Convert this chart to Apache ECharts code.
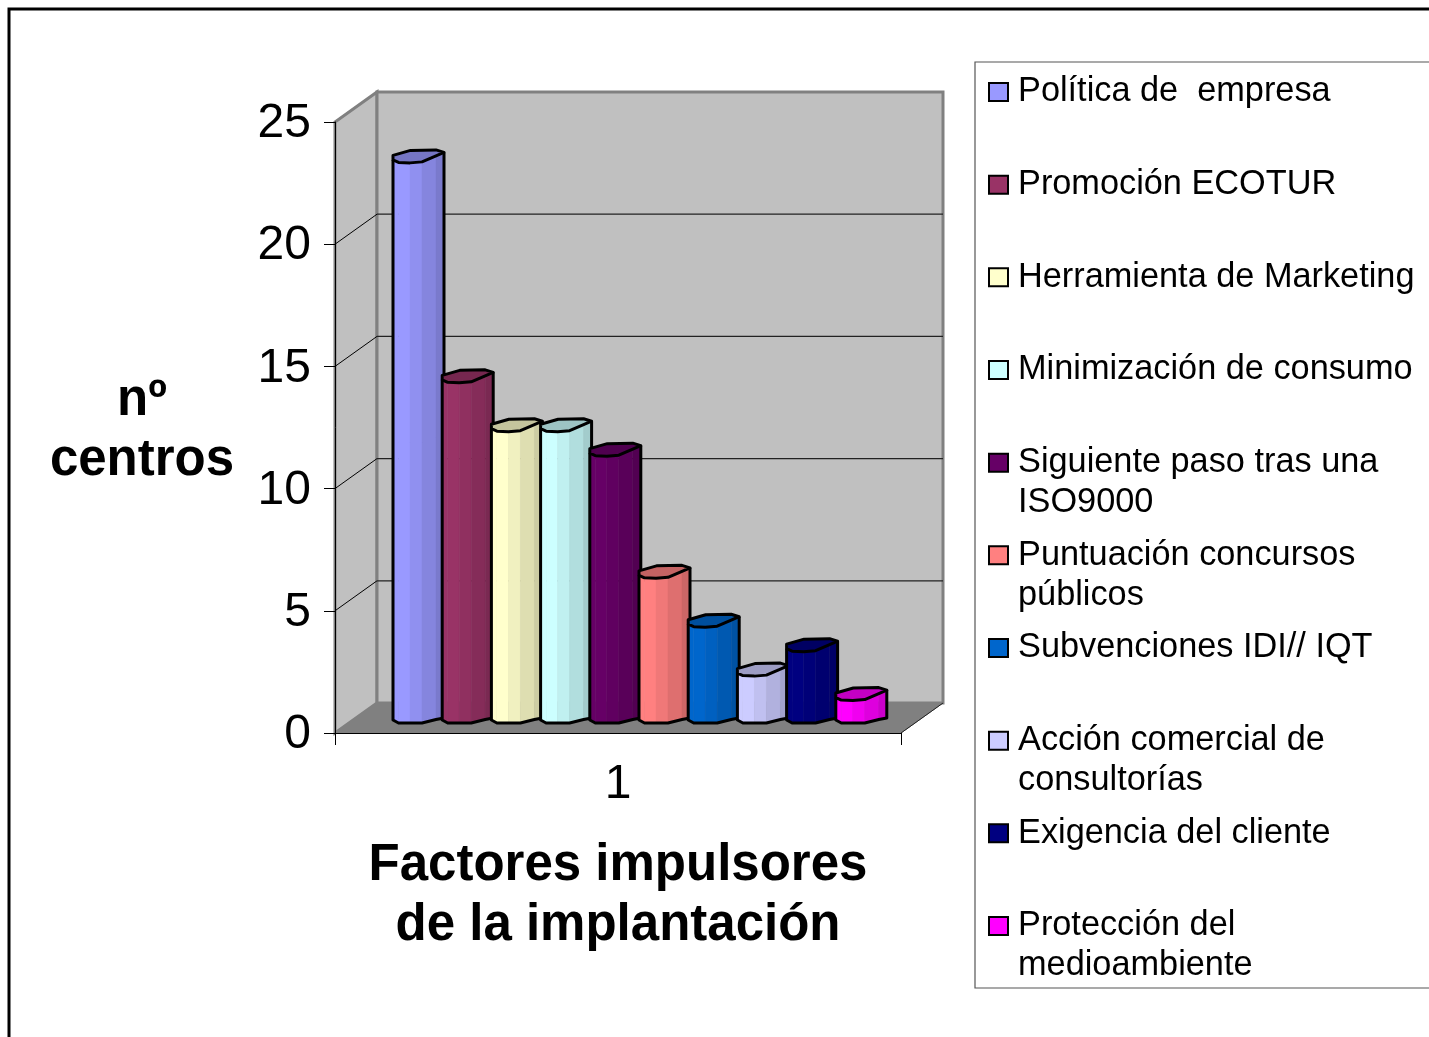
<!DOCTYPE html>
<html>
<head>
<meta charset="utf-8">
<title>Factores impulsores de la implantación</title>
<script src="https://cdn.jsdelivr.net/npm/echarts@6/dist/echarts.min.js"></script>
<style>
html, body { margin: 0; padding: 0; background: #fff; }
#chart { width: 1429px; height: 1037px; }
</style>
</head>
<body>
<div id="chart"></div>
<script>
const categories = ['1']
const factorNames = [
  'Política de  empresa',
  'Promoción ECOTUR',
  'Herramienta de Marketing',
  'Minimización de consumo',
  'Siguiente paso tras una\nISO9000',
  'Puntuación concursos\npúblicos',
  'Subvenciones IDI// IQT',
  'Acción comercial de\nconsultorías',
  'Exigencia del cliente',
  'Protección del\nmedioambiente'
]
const factorValues = [23, 14, 12, 12, 11, 6, 4, 2, 3, 1]
const factorColors = ['#9999FF', '#993366', '#FFFFCC', '#CCFFFF', '#660066', '#FF8080', '#0066CC', '#CCCCFF', '#000080', '#FF00FF']
const yTicks = [0, 5, 10, 15, 20, 25]

const FONT = '"Liberation Sans", Arial, sans-serif'
// profundidad de la caja 3D
const DEPTH_X = 42
const DEPTH_Y = 30
// posicion de las barras dentro de la caja
const BAR_SHIFT_X = 21
const BAR_SHIFT_TOP = 8
const BAR_SHIFT_BASE = 10
const BAR_PITCH = 49.2
// perfil del prisma: x, borde frontal arriba, pie, sombra de cada cara
const PRISM_X = [0, 5.5, 17, 29, 43, 51]
const PRISM_TOP = [-3, -0.5, 0, -1, -7, -10.5]
const PRISM_FOOT = [-3, 0, 0, 0, -3.5, -5]
const PRISM_SHADE = [1, 1, 0.94, 0.87, 0.8]
const CAP_SHADE = 0.77
const PRISM_BACK = [[43, -13], [17.5, -12.5], [0, -7.5]]

function shade (hex, k) {
  const n = parseInt(hex.slice(1), 16)
  const r = Math.round((n >> 16 & 255) * k)
  const g = Math.round((n >> 8 & 255) * k)
  const b = Math.round((n & 255) * k)
  return `rgb(${r},${g},${b})`
}

function renderWalls (params, api) {
  const cs = params.coordSys
  const x0 = cs.x
  const x1 = cs.x + cs.width
  const yBase = api.coord([0, 0])[1]
  const yTop = api.coord([0, 25])[1]
  const wallLine = { stroke: '#808080', lineWidth: 3 }
  const children = [
    { type: 'polygon', shape: { points: [[x0, yBase], [x0 + DEPTH_X, yBase - DEPTH_Y], [x0 + DEPTH_X, yTop - DEPTH_Y], [x0, yTop]] }, style: { fill: '#C0C0C0', ...wallLine } },
    { type: 'polygon', shape: { points: [[x0 + DEPTH_X, yBase - DEPTH_Y], [x1 + DEPTH_X, yBase - DEPTH_Y], [x1 + DEPTH_X, yTop - DEPTH_Y], [x0 + DEPTH_X, yTop - DEPTH_Y]] }, style: { fill: '#C0C0C0', ...wallLine } },
    { type: 'polygon', shape: { points: [[x0, yBase], [x0 + DEPTH_X, yBase - DEPTH_Y], [x1 + DEPTH_X, yBase - DEPTH_Y], [x1, yBase]] }, style: { fill: '#808080', stroke: '#808080', lineWidth: 1 } },
    { type: 'line', shape: { x1: x1, y1: yBase, x2: x1 + DEPTH_X, y2: yBase - DEPTH_Y }, style: { stroke: '#222', lineWidth: 1 } }
  ]
  // lineas de division en pared lateral y fondo
  yTicks.slice(1, -1).forEach(t => {
    const y = api.coord([0, t])[1]
    children.push({ type: 'line', shape: { x1: x0, y1: y, x2: x0 + DEPTH_X, y2: y - DEPTH_Y }, style: { stroke: '#000', lineWidth: 1 } })
    children.push({ type: 'line', shape: { x1: x0 + DEPTH_X, y1: y - DEPTH_Y, x2: x1 + DEPTH_X, y2: y - DEPTH_Y }, style: { stroke: '#222', lineWidth: 1.2 } })
  })
  return { type: 'group', children: children }
}

function makeBarRender (index) {
  return function (params, api) {
    const center = api.coord([0, 0])[0]
    const left = center + BAR_SHIFT_X + (index - 5) * BAR_PITCH
    const yTop = api.coord([0, api.value(1)])[1] - BAR_SHIFT_TOP
    const yBase = api.coord([0, 0])[1] - BAR_SHIFT_BASE
    const color = factorColors[index]
    const children = []
    const front = PRISM_X.map((x, i) => [left + x, yTop + PRISM_TOP[i]])
    const foot = PRISM_X.map((x, i) => [left + x, yBase + PRISM_FOOT[i]])
    for (let i = 0; i < PRISM_SHADE.length; i++) {
      const fill = shade(color, PRISM_SHADE[i])
      children.push({
        type: 'polygon',
        shape: { points: [front[i], front[i + 1], foot[i + 1], foot[i]] },
        style: { fill: fill, stroke: fill, lineWidth: 0.5 }
      })
    }
    const back = PRISM_BACK.map(p => [left + p[0], yTop + p[1]])
    children.push({
      type: 'polygon',
      shape: { points: front.concat(back) },
      style: { fill: shade(color, CAP_SHADE), stroke: '#000', lineWidth: 3, lineJoin: 'round' }
    })
    // contorno del cuerpo
    children.push({
      type: 'polyline',
      shape: { points: [front[0]].concat(foot, [front[front.length - 1]]) },
      style: { fill: null, stroke: '#000', lineWidth: 3, lineJoin: 'round' }
    })
    return { type: 'group', children: children }
  }
}

const chart = echarts.init(document.getElementById('chart'))

const series = [{
  type: 'custom',
  name: 'paredes',
  silent: true,
  z: 1,
  renderItem: renderWalls,
  data: [[0, 0]]
}]
factorNames.forEach((name, i) => {
  series.push({
    type: 'custom',
    name: name,
    z: 2 + i,
    itemStyle: { color: factorColors[i], borderColor: '#000', borderWidth: 2 },
    encode: { x: 0, y: 1 },
    renderItem: makeBarRender(i),
    data: [[0, factorValues[i]]]
  })
})

chart.setOption({
  animation: false,
  backgroundColor: '#fff',
  grid: { left: 335, top: 122, width: 566, height: 611, outerBoundsMode: 'none' },
  xAxis: {
    type: 'category',
    data: categories,
    z: 20,
    axisLine: { lineStyle: { color: '#000', width: 1 } },
    axisTick: { show: true, length: 12, lineStyle: { color: '#000', width: 1 } },
    axisLabel: { color: '#000', fontSize: 48, fontFamily: FONT, margin: 28 },
    name: 'Factores impulsores\nde la implantación',
    nameLocation: 'center',
    nameGap: 103,
    nameTextStyle: { color: '#000', fontSize: 51, fontWeight: 'bold', fontFamily: FONT, lineHeight: 60 }
  },
  yAxis: {
    type: 'value',
    min: 0,
    max: 25,
    interval: 5,
    z: 20,
    splitLine: { show: false },
    axisLine: { show: true, lineStyle: { color: '#000', width: 1 } },
    axisTick: { show: true, length: 11, lineStyle: { color: '#000', width: 1 } },
    axisLabel: {
      color: '#000',
      fontSize: 48,
      fontFamily: FONT,
      margin: 24,
      formatter: '{v|{value}}',
      rich: { v: { color: '#000', fontSize: 48, fontFamily: FONT, padding: [4, 0, 0, 0] } }
    },
    name: '{gap| }\nnº\ncentros',
    nameLocation: 'center',
    nameRotate: 0,
    nameGap: 193,
    nameTextStyle: {
      color: '#000',
      fontSize: 51,
      fontWeight: 'bold',
      fontFamily: FONT,
      lineHeight: 60,
      align: 'center',
      rich: { gap: { fontSize: 4, lineHeight: 6, height: 6 } }
    }
  },
  legend: {
    orient: 'vertical',
    left: 988,
    top: 25,
    padding: 0,
    itemWidth: 19,
    itemHeight: 18,
    itemGap: -41.33,
    selectedMode: false,
    icon: 'rect',
    data: factorNames,
    itemStyle: { borderColor: '#000', borderWidth: 2 },
    // la primera linea del texto queda a la altura del icono
    formatter: name => name.indexOf('\n') >= 0 ? '\n' + name : '\n' + name + '\n',
    textStyle: { color: '#000', fontSize: 34.3, fontFamily: FONT, lineHeight: 40, padding: [0, 0, 14, 5] }
  },
  graphic: [
    { type: 'polyline', shape: { points: [[9, 1040], [9, 9], [1432, 9]] }, style: { fill: null, stroke: '#000', lineWidth: 3 } },
    { type: 'rect', shape: { x: 975, y: 62, width: 470, height: 926 }, style: { fill: '#fff', stroke: '#555', lineWidth: 1.2 } }
  ],
  series: series
})
</script>
</body>
</html>
